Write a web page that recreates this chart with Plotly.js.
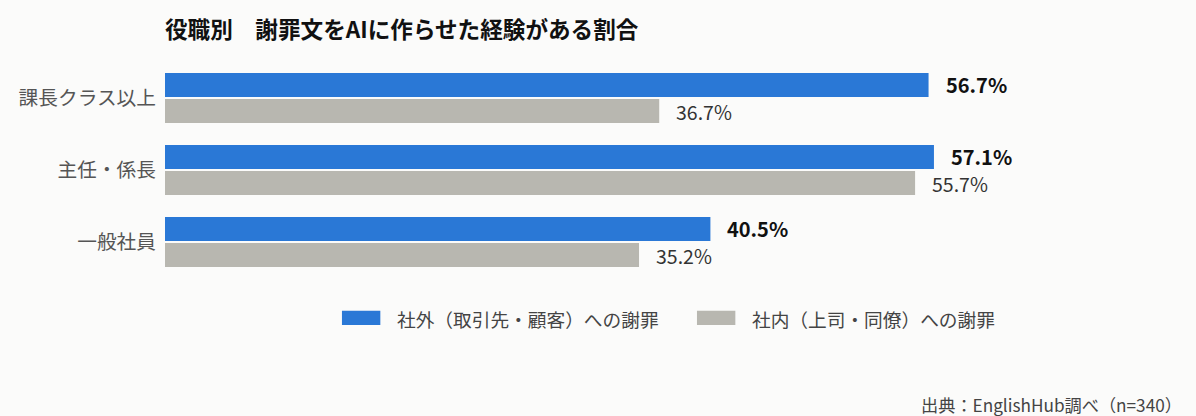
<!DOCTYPE html>
<html>
<head>
<meta charset="utf-8">
<script src="https://cdn.plot.ly/plotly-3.0.1.min.js"></script>
<style>
  html, body { margin: 0; padding: 0; background: #fbfbfa; }
  #chart { width: 1196px; height: 416px; }
</style>
</head>
<body>
<div id="chart"></div>
<script>
var categories = ['課長クラス以上', '主任・係長', '一般社員'];
var seriesNames = ['社外（取引先・顧客）への謝罪', '社内（上司・同僚）への謝罪'];
var external = [56.7, 57.1, 40.5];
var internal = [36.7, 55.7, 35.2];
var chartTitle = '役職別　謝罪文をAIに作らせた経験がある割合';
var sourceNote = '出典：EnglishHub調べ（n=340）';

var FONT = '"Noto Sans CJK JP", "Noto Sans", sans-serif';
var BLUE = '#2a78d6';
var GRAY = '#b8b7b0';

var traces = [
  { type: 'bar', orientation: 'h', name: seriesNames[0], y: categories, x: external,
    marker: { color: BLUE }, hoverinfo: 'none' },
  { type: 'bar', orientation: 'h', name: seriesNames[1], y: categories, x: internal,
    marker: { color: GRAY }, hoverinfo: 'none' }
];

// value labels, placed next to the bar ends
var annotations = [];
for (var i = 0; i < categories.length; i++) {
  annotations.push({ x: external[i], y: categories[i], xref: 'x', yref: 'y',
    text: '<b>' + external[i].toFixed(1) + '%</b>', showarrow: false,
    xanchor: 'left', xshift: 15, yshift: 13.6,
    font: { family: FONT, size: 20, color: '#111' } });
  annotations.push({ x: internal[i], y: categories[i], xref: 'x', yref: 'y',
    text: internal[i].toFixed(1) + '%', showarrow: false,
    xanchor: 'left', xshift: 15, yshift: -13.6,
    font: { family: FONT, size: 19.5, color: '#333' } });
}

// custom legend with wide swatches
var legendColors = [BLUE, GRAY];
var legendX = [0.1752, 0.5267];
var shapes = [];
for (var k = 0; k < seriesNames.length; k++) {
  shapes.push({ type: 'rect', xref: 'paper', yref: 'paper',
    x0: legendX[k], x1: legendX[k] + 0.038, y0: -0.152, y1: -0.218,
    fillcolor: legendColors[k], line: { width: 0 } });
  annotations.push({ xref: 'paper', yref: 'paper', x: legendX[k] + 0.053, y: -0.186,
    xanchor: 'left', yanchor: 'middle', showarrow: false, text: seriesNames[k],
    font: { family: FONT, size: 18.7, color: '#444' } });
}

annotations.push({ xref: 'paper', yref: 'paper', x: 1.009, y: -0.585,
  xanchor: 'right', yanchor: 'middle', showarrow: false, text: sourceNote,
  font: { family: FONT, size: 17.2, color: '#444' } });

var layout = {
  width: 1196, height: 416,
  margin: { l: 165, r: 21, t: 62, b: 138 },
  paper_bgcolor: '#fbfbfa', plot_bgcolor: '#fbfbfa',
  font: { family: FONT, color: '#444' },
  title: { text: '<b>' + chartTitle + '</b>', x: 165 / 1196, xref: 'container', xanchor: 'left',
    y: 1 - 30 / 416, yref: 'container', yanchor: 'middle',
    font: { family: FONT, size: 22.6, color: '#111' } },
  barmode: 'group', bargap: 0.28, bargroupgap: 0.07,
  showlegend: false,
  xaxis: { range: [0, 75], visible: false, fixedrange: true },
  yaxis: { autorange: 'reversed', showgrid: false, zeroline: false, showline: false,
    ticks: '', ticklabelstandoff: 8, tickfont: { family: FONT, size: 19.7, color: '#555' }, fixedrange: true },
  annotations: annotations,
  shapes: shapes
};

Plotly.newPlot('chart', traces, layout, { displayModeBar: false, staticPlot: true });
</script>
</body>
</html>
